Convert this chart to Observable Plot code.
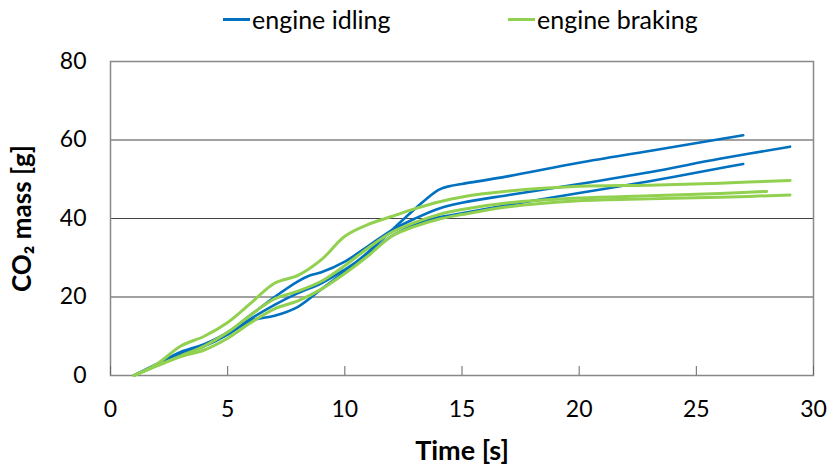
<!DOCTYPE html>
<html>
<head>
<meta charset="utf-8">
<script src="https://cdn.jsdelivr.net/npm/d3@7"></script>
<script src="https://cdn.jsdelivr.net/npm/@observablehq/plot@0.6"></script>
<style>
  html, body { margin: 0; padding: 0; background: #fff; }
  #legend { position: relative; height: 44px; width: 828px; font-family: Lato, sans-serif; font-size: 25px; color: #000; }
  .item { position: absolute; top: 4px; display: flex; align-items: center; }
  .sw { display: inline-block; width: 27px; height: 3px; margin-right: 2px; }
  #chart svg [aria-label="x-axis label"] { font-weight: bold; font-size: 27px; }
  #chart svg [aria-label="y-axis label"] { font-weight: bold; font-size: 26px; }
</style>
</head>
<body>
<div id="legend"></div>
<div id="chart"></div>
<script>
// ---- data ----
const seriesNames = ["engine idling", "engine braking"];
const seriesColors = ["#0070C0", "#92D050"];
const xTicks = [0, 5, 10, 15, 20, 25, 30];
const yTicks = [0, 20, 40, 60, 80];

// engine idling runs
const idling1_t = [1, 2, 3, 4, 5, 6, 7, 8, 9, 10, 11, 12, 13, 14, 14.5, 15, 17, 20, 23, 27];
const idling1_v = [0, 2.8, 5.5, 7.5, 10.5, 14, 15.2, 17.5, 22, 26.5, 31.5, 37, 42.5, 47.3, 48.3, 48.8, 50.8, 54.2, 57.2, 61.2];
const idling2_t = [1, 2, 3, 4, 5, 6, 7, 8, 8.5, 9, 10, 11, 12, 13, 14, 15, 17, 20, 23, 26, 29];
const idling2_v = [0, 3, 6, 8, 11, 15.5, 20, 24, 25.5, 26.3, 29, 33, 37, 40, 42.5, 44, 46, 48.8, 51.8, 55.2, 58.3];
const idling3_t = [1, 2, 3, 4, 5, 6, 7, 8, 9, 10, 11, 12, 13, 14, 15, 17, 20, 23, 26, 27];
const idling3_v = [0, 2.8, 5.5, 7.5, 10.5, 14.5, 18, 21, 23.5, 27, 31, 35.5, 38.5, 40.3, 41.3, 43.5, 46.5, 49.5, 52.8, 53.9];

// engine braking runs
const braking1_t = [1, 2, 3, 4, 5, 6, 7, 8, 9, 10, 11, 12, 13, 14, 15, 17, 20, 23, 26, 29];
const braking1_v = [0, 3, 7.5, 10, 13.5, 18.5, 23.5, 25.5, 29.5, 35.5, 38.5, 40.5, 42.5, 44.2, 45.5, 47, 48.2, 48.5, 49, 49.7];
const braking2_t = [1, 2, 3, 4, 5, 6, 7, 8, 9, 10, 11, 12, 13, 14, 15, 17, 20, 23, 26, 28];
const braking2_v = [0, 2.5, 5, 7.5, 11, 15.5, 19.5, 21.5, 24, 28, 32.5, 36.5, 39, 41, 42.3, 44, 45.2, 45.8, 46.4, 46.9];
const braking3_t = [1, 2, 3, 4, 5, 6, 7, 8, 9, 10, 11, 12, 13, 14, 15, 17, 20, 23, 26, 29];
const braking3_v = [0, 2.5, 4.8, 6.5, 9.5, 13.5, 17, 19, 22, 26, 30.5, 35.5, 38, 39.8, 41, 43, 44.5, 45, 45.4, 46];

// ---- build table ----
const runs = [
  {id: "i1", s: 0, t: idling1_t, v: idling1_v},
  {id: "i2", s: 0, t: idling2_t, v: idling2_v},
  {id: "i3", s: 0, t: idling3_t, v: idling3_v},
  {id: "b1", s: 1, t: braking1_t, v: braking1_v},
  {id: "b2", s: 1, t: braking2_t, v: braking2_v},
  {id: "b3", s: 1, t: braking3_t, v: braking3_v}
];
const rows = runs.flatMap(r => r.t.map((t, i) => ({id: r.id, series: seriesNames[r.s], t, v: r.v[i]})));

// ---- legend ----
const legend = document.getElementById("legend");
const legendLeft = [223, 508];
seriesNames.forEach((n, i) => {
  const it = document.createElement("div");
  it.className = "item";
  it.style.left = legendLeft[i] + "px";
  it.innerHTML = `<span class="sw" style="background:${seriesColors[i]}"></span><span>${n}</span>`;
  legend.appendChild(it);
});

// ---- chart ----
const chart = Plot.plot({
  width: 828,
  height: 422,
  marginTop: 17,
  marginBottom: 91,
  marginLeft: 110,
  marginRight: 15,
  style: {fontFamily: "Lato, sans-serif", fontSize: "23px", color: "#000", background: "#fff", overflow: "visible"},
  x: {domain: [0, 30]},
  y: {domain: [0, 80]},
  color: {domain: seriesNames, range: seriesColors},
  marks: [
    Plot.ruleY(yTicks.slice(1, -1), {stroke: "#444", strokeWidth: 1}),
    Plot.frame({stroke: "#888", strokeWidth: 1.5}),
    Plot.axisY(yTicks, {tickSize: 0, tickPadding: 24, label: "CO₂ mass [g]", labelAnchor: "center", labelOffset: 98, labelArrow: "none"}),
    Plot.axisX(xTicks, {tickSize: -9, tickPadding: 34, stroke: "#666", label: "Time [s]", labelAnchor: "center", labelOffset: 84, labelArrow: "none"}),
    Plot.line(rows, {x: "t", y: "v", z: "id", stroke: "series", strokeWidth: d => d.series === seriesNames[0] ? 2.6 : 3, curve: "catmull-rom"})
  ]
});
document.getElementById("chart").appendChild(chart);
</script>
</body>
</html>
